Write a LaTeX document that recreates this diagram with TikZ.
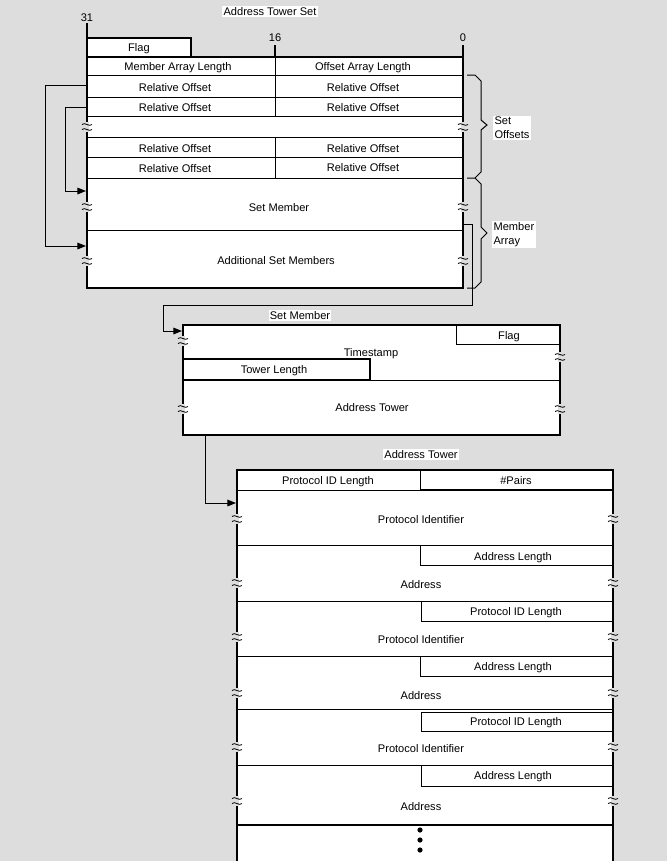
\documentclass[tikz,border=0pt]{standalone}
\usepackage{fontspec}
\setmainfont{Liberation Sans}
\usetikzlibrary{arrows.meta}
\definecolor{bgc}{RGB}{221,221,221}
\tikzset{
  x=0.75pt, y=-0.75pt,
  thk/.style={line width=2pt},
  med/.style={line width=1.3pt},
  thn/.style={line width=0.75pt},
  conn/.style={line width=0.75pt, -{Triangle[length=6.5pt,width=5pt]}},
  lbl/.style={inner sep=0.5pt, yshift=-1.1pt, font=\fontsize{8.3}{9.5}\selectfont},
  wlbl/.style={lbl, fill=white, inner sep=1pt},
  brace/.style={line width=0.75pt},
  brkmark/.pic={
    \fill[bgc] (-1.7,-5) rectangle (1.7,5);
    \draw[line width=0.6pt] (-5,-2.5) .. controls (-2,-5.5) and (2,0.5) .. (5,-2.5);
    \draw[line width=0.6pt] (-5,2.5) .. controls (-2,-0.5) and (2,5.5) .. (5,2.5);
  }
}
\begin{document}
\begin{tikzpicture}
\clip (0,0) rectangle (667,861);
\fill[bgc] (0,0) rectangle (667,861);

% ---------------- Box 1: Address Tower Set ----------------
\node[wlbl] (ats) at (270,10) {Address Tower Set};
\node[lbl] (b31) at (87,16) {31};
\node[lbl] (b16) at (275,36) {16};
\node[lbl] (b0) at (463,36) {0};
\draw[thk] (87,23) -- (87,38);
\draw[thk] (275,45) -- (275,57);
\draw[thk] (463,45) -- (463,57);

\fill[white] (87,38) rectangle (191,57);
\draw[thk] (87,57) -- (87,38) -- (191,38) -- (191,57);
\node[lbl] (flag1) at (139,47.5) {Flag};

\fill[white] (87,57) rectangle (463,288);
\foreach \yy in {75,97,116,137,157,178,230}
  \draw[thn] (87,\yy) -- (463,\yy);
\draw[thn] (275,57) -- (275,116);
\draw[thn] (275,137) -- (275,178);
\draw[thk] (87,57) rectangle (463,288);

\node[lbl] (mal) at (178,66) {Member Array Length};
\node[lbl] (oal) at (363,66) {Offset Array Length};
\node[lbl] (ro1l) at (175,86.5) {Relative Offset};
\node[lbl] (ro1r) at (363,86.5) {Relative Offset};
\node[lbl] (ro2l) at (175,106.5) {Relative Offset};
\node[lbl] (ro2r) at (363,106.5) {Relative Offset};
\node[lbl] (ro3l) at (175,147.5) {Relative Offset};
\node[lbl] (ro3r) at (363,147.5) {Relative Offset};
\node[lbl] (ro4l) at (175,167.5) {Relative Offset};
\node[lbl] (ro4r) at (363,166.5) {Relative Offset};
\node[lbl] (sm1) at (279,206) {Set Member};
\node[lbl] (asm1) at (276,259) {Additional Set Members};

\foreach \yy in {127,207,261} {
  \pic at (87,\yy) {brkmark};
  \pic at (463,\yy) {brkmark};
}

% braces
\draw[brace] (467,75) -- (475,75) -- (481,81) -- (481,120) -- (487,125) -- (481,130) -- (481,172) -- (475,178) -- (467,178);
\draw[brace] (475,178) -- (481,184) -- (481,227) -- (487,233) -- (481,239) -- (481,282) -- (475,288) -- (467,288);
\node[wlbl, align=left, anchor=west] (setoff) at (493,126.5) {Set\\[1pt]Offsets};
\node[wlbl, align=left, anchor=west] (memarr) at (492,233.5) {Member\\[1pt]Array};

% connectors in box 1
\coordinate (ro1src) at (87,85);
\coordinate (ro2src) at (87,107);
\coordinate (asmdst) at (86,246);
\coordinate (smdst) at (86,191);
\draw[conn] (ro1src) -- (45,85) |- (asmdst);
\draw[conn] (ro2src) -- (65,107) |- (smdst);

% ---------------- Box 2: Set Member ----------------
\node[wlbl] (smlab) at (300,314) {Set Member};
\coordinate (asmsrc) at (463,224);
\coordinate (box2in) at (182,331);
\draw[conn] (asmsrc) -- (472,224) -- (472,305) -- (163,305) |- (box2in);

\fill[white] (183,325) rectangle (560,435);
\draw[thn] (456,325) -- (456,344) -- (560,344);
\draw[thn] (183,380) -- (560,380);
\draw[med] (183,359) -- (370,359) -- (370,380) -- (183,380);
\draw[thk] (183,325) rectangle (560,435);
\node[lbl] (flag2) at (509,335) {Flag};
\node[lbl] (ts) at (371,352) {Timestamp};
\node[lbl] (tl) at (274,369.5) {Tower Length};
\node[lbl] (at2) at (372,406) {Address Tower};
\pic at (183,341) {brkmark};
\pic at (560,357) {brkmark};
\pic at (183,409) {brkmark};
\pic at (560,409) {brkmark};

% ---------------- Box 3: Address Tower ----------------
\node[wlbl] (atlab) at (421,453) {Address Tower};
\coordinate (box2out) at (205,435);
\coordinate (box3in) at (236,503);
\draw[conn] (box2out) |- (box3in);

\fill[white] (237,470) rectangle (613,870);
\draw[thn] (237,490) -- (420,490);
\draw[med] (420,490) -- (613,490);
\draw[thn] (420,470) -- (420,490);
\foreach \yy in {545,601,656,709,765}
  \draw[thn] (237,\yy) -- (613,\yy);
\draw[thn] (420,545) -- (420,565) -- (613,565);
\draw[thn] (421,601) -- (421,621) -- (613,621);
\draw[thn] (420,656) -- (420,676) -- (613,676);
\draw[thn] (421,712) -- (613,712);
\draw[thn] (421,712) -- (421,731) -- (613,731);
\draw[thn] (421,765) -- (421,786) -- (613,786);
\draw[thk] (237,825) -- (613,825);
\draw[thk] (237,870) -- (237,470) -- (613,470) -- (613,870);

\node[lbl] (pil0) at (328,480) {Protocol ID Length};
\node[lbl] (pairs) at (516,479.5) {\#Pairs};
\node[lbl] (pid1) at (421,518) {Protocol Identifier};
\node[lbl] (al1) at (513,556) {Address Length};
\node[lbl] (ad1) at (421,583) {Address};
\node[lbl] (pil1) at (516,611) {Protocol ID Length};
\node[lbl] (pid2) at (421,638) {Protocol Identifier};
\node[lbl] (al2) at (513,666) {Address Length};
\node[lbl] (ad2) at (421,694) {Address};
\node[lbl] (pil2) at (516,721) {Protocol ID Length};
\node[lbl] (pid3) at (421,747) {Protocol Identifier};
\node[lbl] (al3) at (513,775) {Address Length};
\node[lbl] (ad3) at (421,805) {Address};

\fill (420,830) circle (2.6) (420,840) circle (2.6) (420,850) circle (2.6);

\foreach \yy in {519,583,637,693,747,801} {
  \pic at (237,\yy) {brkmark};
  \pic at (613,\yy) {brkmark};
}
\end{tikzpicture}
\end{document}
